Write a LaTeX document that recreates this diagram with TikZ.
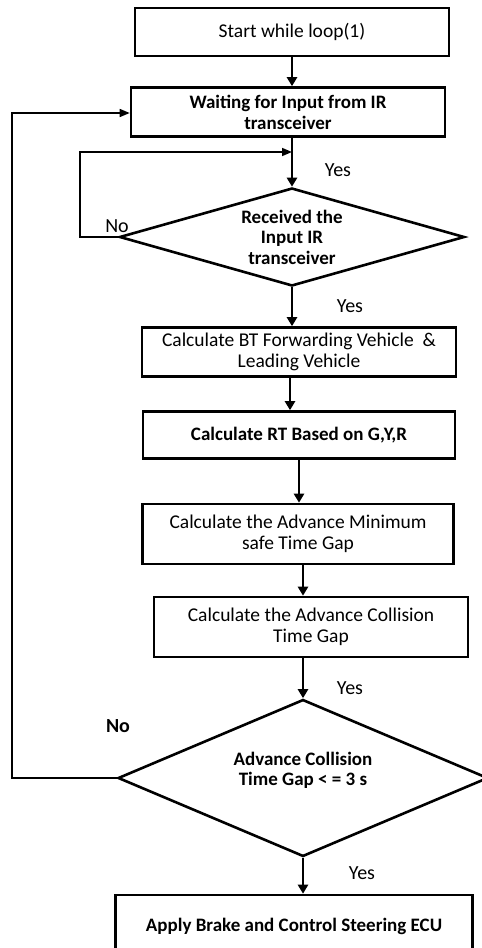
\documentclass[tikz,border=0pt]{standalone}
\usepackage{fontspec}
\setmainfont{Carlito}
\usetikzlibrary{shapes.geometric,arrows.meta}

\tikzset{
  box/.style={draw, line width=2.6pt, align=center, inner sep=0pt,
    font=\fontsize{19.5}{21}\selectfont},
  boldbox/.style={box, font=\fontsize{19}{21}\selectfont\bfseries},
  decision/.style={diamond, draw, line width=2.6pt, aspect=3.5, inner sep=0pt,
    align=center, font=\fontsize{19}{20.5}\selectfont\bfseries},
  flow/.style={line width=2.6pt, -{Triangle[length=9pt,width=10pt]}},
  back/.style={line width=1.5pt, -{Triangle[length=10pt,width=8pt]}},
  lbl/.style={font=\fontsize{20}{22}\selectfont}
}

\begin{document}
\begin{tikzpicture}[x=1pt,y=-1pt]
\useasboundingbox (0,0) rectangle (482,948);
\clip (0,0) rectangle (482,948);

\node[box, minimum width=314pt, minimum height=48pt] (start) at (292,32) {Start while loop(1)};
\node[boldbox, minimum width=314pt, minimum height=49pt] (wait) at (288,112) {Waiting for Input from IR\\transceiver};
\node[decision, minimum width=345pt, minimum height=98pt] (recv) at (292,237) {Received the\\Input IR\\transceiver};
\node[box, minimum width=314pt, minimum height=49pt] (calcbt) at (299,352) {Calculate BT Forwarding Vehicle~~\&\\Leading Vehicle};
\node[boldbox, minimum width=312pt, minimum height=47pt] (calcrt) at (299,435) {Calculate RT Based on G,Y,R};
\node[box, minimum width=311pt, minimum height=60pt] (calcmin) at (298,534) {Calculate the Advance Minimum\\safe Time Gap};
\node[box, minimum width=314pt, minimum height=60pt] (calccol) at (311,627) {Calculate the Advance Collision\\Time Gap};
\node[decision, minimum width=370pt, minimum height=157pt, text depth=18pt] (check) at (303,778) {Advance Collision\\Time Gap < = 3 s};
\node[boldbox, minimum width=357pt, minimum height=62pt] (brake) at (294,926) {Apply Brake and Control Steering ECU};

\coordinate (loopin) at (80,152);
\coordinate (loopout) at (12,113);

% main flow
\draw[flow] (start.south) -- (start.south |- wait.north);
\draw[flow] (wait.south -| recv.north) -- (recv.north);
\draw[flow] (recv.south) -- (recv.south |- calcbt.north);
\draw[flow] ([xshift=-9]calcbt.south) -- ([xshift=-9]calcbt.south |- calcrt.north);
\draw[flow] (calcrt.south) -- (calcrt.south |- calcmin.north);
\draw[flow] ([xshift=5]calcmin.south) -- ([xshift=5]calcmin.south |- calccol.north);
\draw[flow] (calccol.south -| check.north) -- (check.north);
\draw[flow] (check.south) -- (check.south |- brake.north);

% feedback
\draw[back] (recv.west) -| (loopin) -- (recv.north |- loopin);
\draw[back] (check.west) -| (loopout) -- (wait.west |- loopout);

\node[lbl] (yes1) at (338,170) {Yes};
\node[lbl] (no1) at (117,226) {No};
\node[lbl] (yes2) at (350,306) {Yes};
\node[lbl] (yes3) at (350,688) {Yes};
\node[lbl, font=\fontsize{20}{22}\selectfont\bfseries] (no2) at (118,726) {No};
\node[lbl] (yes4) at (362,873) {Yes};
\end{tikzpicture}
\end{document}
